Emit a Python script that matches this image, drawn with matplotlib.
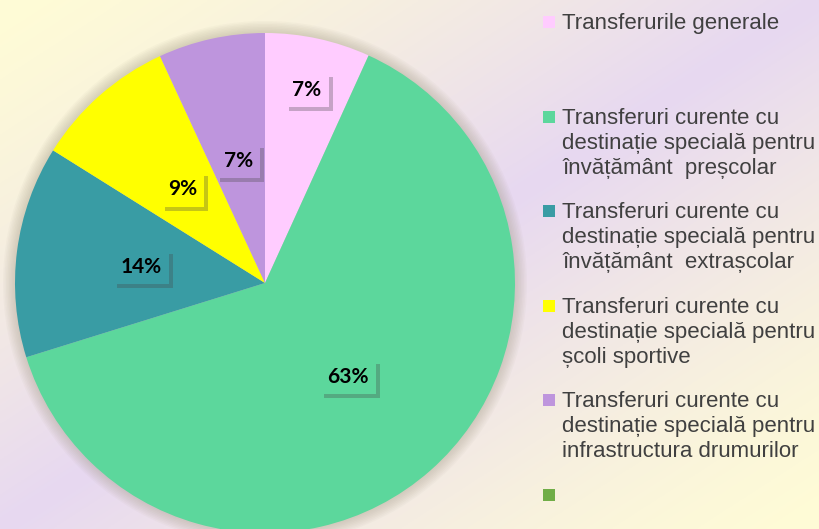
import numpy as np
import matplotlib
matplotlib.use("Agg")
import matplotlib.pyplot as plt
import matplotlib.patheffects as pe
from matplotlib.patches import Rectangle, Circle

CATEGORIES = [
    "Transferurile generale",
    "Transferuri curente cu\ndestinație specială pentru\nînvățământ  preșcolar",
    "Transferuri curente cu\ndestinație specială pentru\nînvățământ  extrașcolar",
    "Transferuri curente cu\ndestinație specială pentru\nșcoli sportive",
    "Transferuri curente cu\ndestinație specială pentru\ninfrastructura drumurilor",
    "",
]
SHARES = [6.8, 63.4, 13.7, 9.2, 6.9, 0.0]
COLORS = ["#FFCCFF", "#5CD79C", "#399CA4", "#FFFF00", "#BE95DD", "#70AD47"]
LABEL_R = [0.79, 0.5, 0.5, 0.5, 0.5]

W, H = 820, 529
fig = plt.figure(figsize=(W / 100, H / 100), dpi=100)

# background: yellow corners (top-left / bottom-right), lavender along the anti-diagonal
bg = fig.add_axes([0, 0, 1, 1], zorder=-10)
xx, yy = np.meshgrid(np.linspace(0, 1, 400), np.linspace(0, 1, 260))
t = np.clip(1 - np.abs(xx + yy - 1), 0, 1) ** 1.3
yel = np.array([255, 252, 214]) / 255
lav = np.array([231, 216, 241]) / 255
img = yel[None, None, :] * (1 - t[..., None]) + lav[None, None, :] * t[..., None]
bg.imshow(img, extent=[0, 1, 0, 1], aspect="auto", origin="upper")
bg.axis("off")

# pie axes: centre (265, 283) px, radius 250 px
cx, cy, r = 265, 283, 250
ax = fig.add_axes([(cx - r) / W, (H - cy - r) / H, 2 * r / W, 2 * r / H])

# soft halo behind the pie
for k in range(8):
    ax.add_patch(Circle((0, 0), 1.0 + 0.006 * (k + 1), color="#a09880", alpha=0.05,
                        lw=0, zorder=0, clip_on=False))

vals = [v for v in SHARES if v > 0]
wedges, _ = ax.pie(vals, colors=COLORS[:len(vals)], startangle=90, counterclock=False,
                   radius=1, wedgeprops=dict(linewidth=0, clip_on=False), frame=True)
ax.set_xlim(-1, 1)
ax.set_ylim(-1, 1)
ax.axis("off")

total = sum(vals)
for w, v, lr, col in zip(wedges, vals, LABEL_R, COLORS):
    mid = np.deg2rad((w.theta1 + w.theta2) / 2)
    x, y = lr * np.cos(mid), lr * np.sin(mid)
    tx = ax.text(x, y, f"{v / total * 100:.0f}%", ha="center", va="center", fontsize=15,
                 fontweight="bold", family="Lato", color="black", zorder=5,
                 bbox=dict(boxstyle="square,pad=0.35", fc=col, ec="none"))
    tx.get_bbox_patch().set_path_effects([
        pe.SimplePatchShadow(offset=(3, -3), shadow_rgbFace="#444444", alpha=0.3),
        pe.Normal()])

# legend, drawn by hand to mimic the spaced-out entries
y0, step = 22, 94.6
for i, (lab, col) in enumerate(zip(CATEGORIES, COLORS)):
    yc = y0 + i * step
    fig.patches.append(Rectangle((543 / W, (H - yc - 6) / H), 12 / W, 12 / H,
                                 transform=fig.transFigure, fc=col, ec="none"))
    fig.text(562 / W, (H - yc + 9) / H, lab, ha="left", va="top", fontsize=16,
             family="Liberation Sans", color="#404040", linespacing=1.25)

fig.savefig("out.png", dpi=100)
